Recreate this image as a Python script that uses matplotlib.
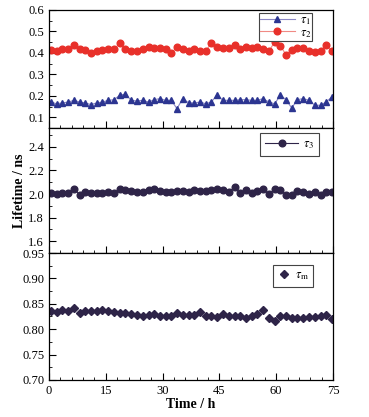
import matplotlib
matplotlib.use("Agg")
import matplotlib.pyplot as plt
from matplotlib.ticker import MultipleLocator

plt.rcParams['font.family'] = ['Liberation Serif', 'DejaVu Serif']
plt.rcParams['mathtext.fontset'] = 'stix'
plt.rcParams['font.size'] = 9

# Data
time = [0.5, 2.0, 3.5, 5.1, 6.6, 8.1, 9.6, 11.1, 12.6, 14.1,
        15.7, 17.2, 18.7, 20.2, 21.7, 23.2, 24.7, 26.3, 27.8, 29.3,
        30.8, 32.3, 33.8, 35.3, 36.9, 38.4, 39.9, 41.4, 42.9, 44.4,
        45.9, 47.5, 49.0, 50.5, 52.0, 53.5, 55.0, 56.5, 58.1, 59.6,
        61.1, 62.6, 64.1, 65.6, 67.1, 68.7, 70.2, 71.7, 73.2, 74.7]

tau1 = [0.171, 0.163, 0.167, 0.171, 0.179, 0.171, 0.167, 0.159, 0.167, 0.171,
        0.179, 0.182, 0.203, 0.208, 0.179, 0.176, 0.179, 0.171, 0.182, 0.187,
        0.179, 0.179, 0.140, 0.187, 0.167, 0.167, 0.171, 0.163, 0.171, 0.206,
        0.179, 0.179, 0.179, 0.182, 0.182, 0.179, 0.179, 0.187, 0.171, 0.163,
        0.203, 0.182, 0.143, 0.182, 0.187, 0.179, 0.156, 0.156, 0.171, 0.195]

tau2 = [0.413, 0.408, 0.416, 0.419, 0.436, 0.416, 0.413, 0.400, 0.408, 0.413,
        0.416, 0.419, 0.444, 0.419, 0.411, 0.411, 0.416, 0.429, 0.424, 0.424,
        0.419, 0.400, 0.427, 0.416, 0.411, 0.419, 0.408, 0.408, 0.448, 0.429,
        0.424, 0.424, 0.435, 0.416, 0.429, 0.424, 0.427, 0.419, 0.408, 0.452,
        0.432, 0.392, 0.413, 0.424, 0.424, 0.408, 0.403, 0.411, 0.435, 0.410]

tau3 = [2.006, 2.003, 2.011, 2.011, 2.043, 1.994, 2.017, 2.011, 2.011, 2.011,
        2.017, 2.006, 2.043, 2.034, 2.029, 2.020, 2.017, 2.034, 2.040, 2.029,
        2.020, 2.017, 2.029, 2.023, 2.020, 2.037, 2.026, 2.023, 2.034, 2.043,
        2.037, 2.020, 2.057, 2.006, 2.034, 2.006, 2.029, 2.040, 1.997, 2.043,
        2.034, 1.994, 1.994, 2.023, 2.017, 2.003, 2.020, 1.991, 2.017, 2.017]

tau_m = [0.836, 0.834, 0.838, 0.836, 0.842, 0.831, 0.835, 0.836, 0.836, 0.838,
         0.835, 0.834, 0.832, 0.832, 0.830, 0.828, 0.826, 0.828, 0.830, 0.826,
         0.826, 0.825, 0.832, 0.828, 0.828, 0.827, 0.833, 0.826, 0.826, 0.824,
         0.829, 0.826, 0.825, 0.826, 0.822, 0.826, 0.829, 0.838, 0.822, 0.816,
         0.825, 0.826, 0.822, 0.822, 0.822, 0.824, 0.824, 0.826, 0.828, 0.820]

fig = plt.figure(figsize=(3.69, 4.17), dpi=100)
W, H = 369.0, 417.0
x0, x1 = 49 / W, 333 / W


def make_ax(top_px, bot_px):
    return fig.add_axes([x0, 1 - bot_px / H, x1 - x0, (bot_px - top_px) / H])


ax1 = make_ax(10, 128)
ax2 = make_ax(128, 253)
ax3 = make_ax(253, 380)

ax1.plot(time, tau1, '-^', color='#8a86c4', mfc='#2c3591', mec='#2c3591',
         lw=0.8, ms=4.8, label=r'$\tau_1$')
ax1.plot(time, tau2, '-o', color='#f08a84', mfc='#e8302a', mec='#e8302a',
         lw=0.8, ms=4.8, label=r'$\tau_2$')
ax1.set_ylim(0.05, 0.6)
ax1.yaxis.set_minor_locator(MultipleLocator(0.05))
ax1.set_yticks([0.1, 0.2, 0.3, 0.4, 0.5, 0.6])

ax2.plot(time, tau3, '-o', color='#2e2448', mfc='#2e2448', mec='#2e2448',
         lw=0.8, ms=4.8, label=r'$\tau_3$')
ax2.set_ylim(1.5, 2.56)
ax2.set_yticks([1.6, 1.8, 2.0, 2.2, 2.4])
ax2.yaxis.set_minor_locator(MultipleLocator(0.1))
ax2.set_ylabel('Lifetime / ns', fontweight='bold', fontsize=10, labelpad=2)

ax3.plot(time, tau_m, 'D', color='#2e2448', ms=4.4, label=r'$\tau_{\rm m}$')
ax3.set_ylim(0.70, 0.95)
ax3.set_yticks([0.70, 0.75, 0.80, 0.85, 0.90, 0.95])
ax3.set_yticklabels(['0.70', '0.75', '0.80', '0.85', '0.90', '0.95'])
ax3.yaxis.set_minor_locator(MultipleLocator(0.025))
ax3.set_xlabel('Time / h', fontweight='bold', fontsize=10, labelpad=1)

for ax in (ax1, ax2, ax3):
    ax.set_xlim(0, 75)
    ax.xaxis.set_major_locator(MultipleLocator(15))
    ax.xaxis.set_minor_locator(MultipleLocator(3))
    ax.tick_params(which='both', direction='in', top=False, right=False)
    ax.tick_params(which='major', length=5, width=0.8)
    ax.tick_params(which='minor', length=2.5, width=0.6)
    for s in ax.spines.values():
        s.set_linewidth(0.9)
for ax in (ax1, ax2):
    ax.tick_params(axis='x', labelbottom=False)

leg_kw = dict(frameon=True, fancybox=False, edgecolor='#444444',
              framealpha=1, fontsize=9, handletextpad=0.4, borderaxespad=0)
l1 = ax1.legend(loc='upper right', bbox_to_anchor=(0.926, 0.975),
                handlelength=2.8, borderpad=0.08, labelspacing=0.0, **leg_kw)
l2 = ax2.legend(loc='upper right', bbox_to_anchor=(0.95, 0.96),
                handlelength=2.6, borderpad=0.4, **leg_kw)
l3 = ax3.legend(loc='upper right', bbox_to_anchor=(0.93, 0.905),
                handlelength=1.0, borderpad=0.35, **leg_kw)
for l in (l1, l2, l3):
    l.get_frame().set_linewidth(0.8)

fig.savefig('out.png', dpi=100)
